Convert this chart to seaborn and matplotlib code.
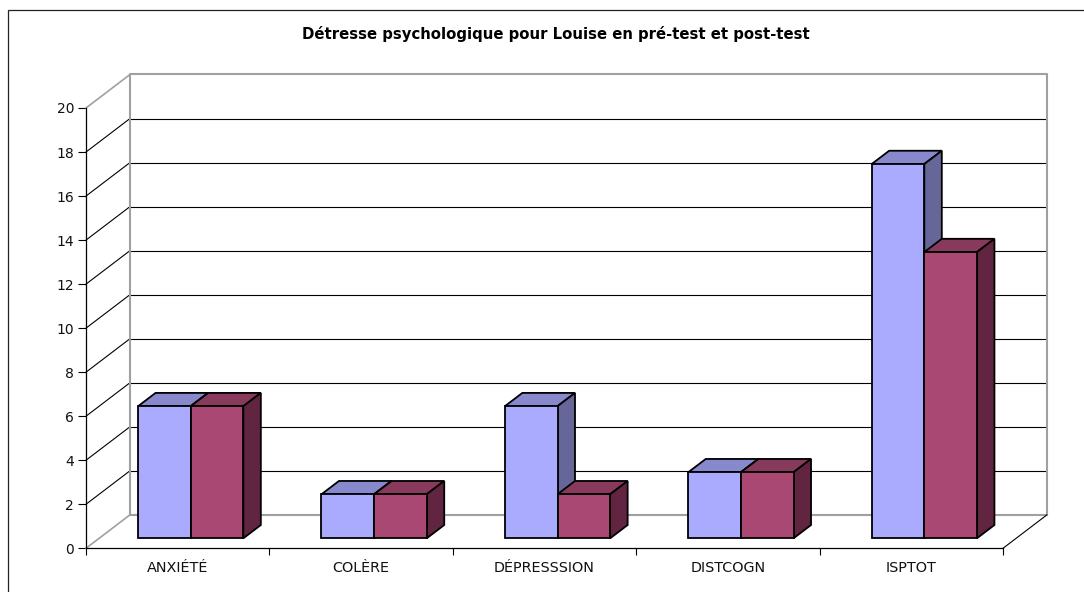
import matplotlib
matplotlib.use("Agg")
import matplotlib.pyplot as plt
import pandas as pd
import seaborn as sns
from matplotlib.patches import Polygon, Rectangle

# valeurs
categories = ["ANXIÉTÉ", "COLÈRE", "DÉPRESSSION", "DISTCOGN", "ISPTOT"]
pre_test = [6, 2, 6, 3, 17]
post_test = [6, 2, 2, 3, 13]
y_ticks = list(range(0, 21, 2))
title = "Détresse psychologique pour Louise en pré-test et post-test"

W, H = 1084, 592
LEFT, RIGHT, BOTTOM, TOP = 86, 1003, 548.3, 108

front_colors = ["#AAAAFF", "#AA4874"]
top_colors = ["#8888CC", "#883A5C"]
side_colors = ["#666699", "#622541"]
GRAY = "#A0A0A0"
EDGE = 1.3

sns.set_theme(style="white")
plt.rcParams["font.family"] = ["DejaVu Sans"]

fig = plt.figure(figsize=(W / 100, H / 100), dpi=100, facecolor="white")
ax = fig.add_axes([LEFT / W, 1 - BOTTOM / H, (RIGHT - LEFT) / W, (BOTTOM - TOP) / H])

df = pd.DataFrame({"cat": categories, "pre": pre_test, "post": post_test})
df = df.melt(id_vars="cat", var_name="temps", value_name="score")
sns.barplot(
    data=df, x="cat", y="score", hue="temps", palette=front_colors,
    width=0.574, gap=0, saturation=1, edgecolor="black", linewidth=EDGE,
    legend=False, ax=ax,
)

ax.set_xlim(-0.5, 4.5)
ax.set_ylim(0, 20)

# pixels vers unités de données
px_x = 5 / (RIGHT - LEFT)
px_y = 20 / (BOTTOM - TOP)

# profondeur du plancher et des barres
wall_dx, wall_dy = 44 * px_x, 33.5 * px_y
bar_ox, bar_oy = 13 * px_x, 10 * px_y
bar_dx, bar_dy = 17.5 * px_x, 13.3 * px_y

x0, x1 = ax.get_xlim()

# grille : mur du fond et mur gauche
for v in y_ticks:
    c, lw = (GRAY, 1.5) if v in (y_ticks[0], y_ticks[-1]) else ("black", 0.8)
    ax.plot([x0 + wall_dx, x1 + wall_dx], [v + wall_dy] * 2, color=c, lw=lw,
            clip_on=False, zorder=1, solid_capstyle="butt")
    ax.plot([x0, x0 + wall_dx], [v, v + wall_dy], color=c, lw=0.8 if c == "black" else 1.2,
            clip_on=False, zorder=1)
for xv in (x0 + wall_dx, x1 + wall_dx):
    ax.plot([xv, xv], [wall_dy, y_ticks[-1] + wall_dy], color=GRAY, lw=1.5,
            clip_on=False, zorder=1)
ax.plot([x1, x1 + wall_dx], [0, wall_dy], color="black", lw=0.8, clip_on=False, zorder=1)

# faces du dessus et de côté de chaque barre
for i, bars in enumerate(ax.containers):
    for bar in bars:
        bar.set_x(bar.get_x() + bar_ox)
        bar.set_y(bar_oy)
        bar.set_clip_on(False)
        bar.set_zorder(6)
        xa, xb = bar.get_x(), bar.get_x() + bar.get_width()
        ya, yb = bar.get_y(), bar.get_y() + bar.get_height()
        ax.add_patch(Polygon(
            [(xa, yb), (xb, yb), (xb + bar_dx, yb + bar_dy), (xa + bar_dx, yb + bar_dy)],
            closed=True, facecolor=top_colors[i], edgecolor="black", lw=EDGE,
            clip_on=False, zorder=3 + i, joinstyle="miter",
        ))
        ax.add_patch(Polygon(
            [(xb, ya), (xb + bar_dx, ya + bar_dy), (xb + bar_dx, yb + bar_dy), (xb, yb)],
            closed=True, facecolor=side_colors[i], edgecolor="black", lw=EDGE,
            clip_on=False, zorder=3 + i, joinstyle="miter",
        ))

# axes
sns.despine(ax=ax)
ax.spines["left"].set_color("black")
ax.spines["bottom"].set_color("black")
ax.spines["left"].set_linewidth(0.9)
ax.spines["bottom"].set_linewidth(0.9)
ax.set_xlabel("")
ax.set_ylabel("")
ax.set_yticks(y_ticks)
ax.set_xticks(range(len(categories)))
ax.set_xticklabels(categories)
ax.set_xticks([k - 0.5 for k in range(len(categories) + 1)], minor=True)
ax.tick_params(axis="y", left=True, length=5.5, width=0.8, color="black", labelsize=10, pad=3, labelcolor="#111111")
ax.tick_params(axis="x", which="major", bottom=False, labelsize=10.4, pad=3.5, labelcolor="#111111")
ax.tick_params(axis="x", which="minor", bottom=True, length=5, width=0.8, color="black")

# cadre et titre
fig.add_artist(Rectangle((7.5 / W, -0.1), 1.1, 1 - 9.8 / H + 0.1, transform=fig.transFigure,
                         facecolor="none", edgecolor="#222222", lw=0.9))
fig.text(556 / W, 1 - 34 / H, title, ha="center", va="center", fontsize=10.7,
         fontweight="bold", color="black")

fig.savefig("out.png", dpi=100)
